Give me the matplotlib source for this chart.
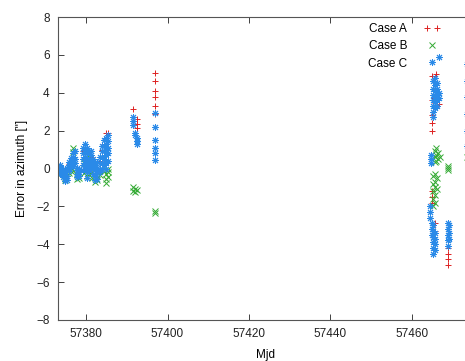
import matplotlib
matplotlib.use("Agg")
import matplotlib.pyplot as plt
from matplotlib.legend_handler import HandlerLine2D

plt.rcParams['font.family'] = ['Liberation Sans', 'DejaVu Sans']
plt.rcParams['font.size'] = 8.5

# Case A (red +)
mjd_a = [57373.3, 57373.8, 57374.8, 57375.8, 57376.8, 57377.8, 57379.3, 57379.8,
         57380.3, 57381.3, 57382.3, 57383.3, 57383.8, 57384.3, 57384.9, 57385.3,
         57391.5, 57392.4, 57392.4, 57392.4,
         57397.0, 57397.0, 57397.0, 57397.0, 57397.0, 57397.0,
         57464.9, 57466.0, 57464.9, 57466.8, 57464.9, 57464.9, 57464.9,
         57465.0, 57465.0, 57465.0, 57465.6, 57465.6,
         57468.8, 57468.8, 57468.8, 57468.8]
err_a = [0.05, -0.1, -0.4, 0.25, 0.55, -0.2, 0.9, 1.15,
         0.95, 0.6, 0.1, 0.4, 1.0, 1.3, 1.9, 1.85,
         3.15, 2.6, 2.35, 2.15,
         5.05, 4.6, 4.1, 3.75, 3.3, 2.9,
         4.9, 5.0, 3.6, 3.4, 2.8, 2.4, 2.0,
         -1.2, -1.5, -1.8, -2.9, -3.3,
         -4.2, -4.5, -4.8, -5.1]

# Case B (green x)
mjd_b = [57373.3, 57373.3, 57374.8, 57374.8, 57375.8, 57376.5, 57376.5, 57376.9, 57376.9,
         57377.8, 57377.8, 57378.3, 57379.5, 57379.5, 57380.3, 57380.3, 57380.8, 57380.8,
         57381.5, 57381.5, 57382.3, 57382.3, 57382.8, 57383.3, 57383.3, 57384.3, 57384.3,
         57384.8, 57384.8, 57384.8, 57385.3, 57385.3, 57385.3,
         57391.5, 57391.5, 57392.0, 57392.0, 57392.5, 57397.0, 57397.0,
         57465.6, 57465.6, 57465.6, 57466.0, 57466.0, 57466.0, 57466.5, 57466.5, 57467.0,
         57468.8, 57468.8, 57468.8,
         57465.2, 57465.2, 57465.2, 57465.2, 57465.2,
         57465.8, 57465.8, 57465.8, 57465.8, 57465.8, 57466.3, 57466.3,
         57473.6]
err_b = [-0.35, -0.2, -0.6, -0.45, -0.25, 0.0, -0.2, 1.1, 0.85,
         -0.55, -0.35, -0.5, -0.25, 0.3, -0.4, 0.6, -0.3, 0.0,
         -0.5, -0.2, -0.7, -0.5, -0.6, -0.35, -0.1, -0.15, 0.1,
         -0.3, -0.55, -0.75, -0.2, -0.45, 0.0,
         -1.0, -1.2, -1.1, -1.25, -1.15, -2.25, -2.35,
         0.9, 0.6, 0.35, 1.1, 0.7, 0.4, 0.8, 0.5, 0.6,
         0.05, -0.1, 0.15,
         -0.4, -0.8, -1.2, -1.6, -2.0,
         -0.3, -0.7, -1.0, -1.4, -1.8, -0.5, -1.1,
         0.6]

# Case C (blue asterisk)
mjd_c = [57373.2] * 5 + [57373.7] * 4 + [57374.3] * 3 + [57374.8] * 4 + [57375.3] * 4 + \
        [57375.8] * 4 + [57376.3] * 4 + [57376.8] * 4 + [57377.3] * 3 + [57377.8] * 4 + \
        [57378.3] * 3 + [57379.3] * 5 + [57379.8] * 5 + [57380.3] * 6 + [57380.8] * 4 + \
        [57381.3] * 4 + [57381.8] * 4 + [57382.3] * 4 + [57382.8] * 4 + [57383.3] * 4 + \
        [57383.8] * 5 + [57384.3] * 5 + [57384.8] * 6 + [57385.3] * 5 + \
        [57391.5] * 3 + [57392.0] * 2 + [57392.5] * 3 + [57397.0] * 6 + \
        [57466.7] + [57465.3] * 7 + [57465.8] * 6 + [57466.3] * 5 + [57466.6] * 2 + \
        [57464.7] * 3 + [57464.6] * 3 + [57465.0] * 3 + [57465.3] * 6 + [57465.8] * 4 + \
        [57468.8] * 5 + [57469.1] * 3 + [57473.6] * 6
err_c = [0.1, -0.05, -0.2, -0.3, 0.15,
         0.05, -0.15, -0.25, 0.2,
         0.0, -0.3, -0.45,
         -0.2, -0.5, -0.65, -0.35,
         -0.1, 0.05, -0.4, -0.6,
         0.2, 0.35, 0.05, -0.15,
         0.4, 0.55, 0.25, 0.1,
         0.6, 0.35, 0.15, 0.8,
         0.5, 0.9, 0.3,
         -0.1, -0.3, -0.45, 0.05,
         -0.2, -0.4, 0.0,
         0.8, 1.1, 0.5, 0.2, -0.1,
         1.3, 1.0, 0.6, 0.3, 0.0,
         1.1, 0.8, 0.4, 0.1, -0.2, -0.5,
         0.9, 0.5, 0.2, -0.1,
         0.7, 0.4, 0.1, 0.95,
         0.3, 0.0, -0.3, 0.5,
         0.2, -0.1, -0.4, -0.6,
         0.35, 0.05, -0.25, -0.55,
         0.6, 0.3, 0.0, -0.2,
         1.2, 0.9, 0.6, 0.3, 0.0,
         1.5, 1.2, 0.9, 0.5, 0.2,
         1.6, 1.3, 1.0, 0.7, 0.3, 0.0,
         1.75, 1.45, 1.1, 0.8, 0.4,
         2.7, 2.5, 2.3,
         1.9, 1.75,
         1.6, 1.45, 1.3,
         2.95, 2.2, 1.5, 1.1, 0.8, 0.45,
         5.9,
         4.6, 4.2, 3.9, 3.6, 3.3, 3.0, 2.7,
         4.8, 4.4, 4.1, 3.8, 3.5, 3.2,
         4.5, 4.2, 3.9, 3.6, 3.3,
         4.0, 3.7,
         0.7, 0.5, 0.3,
         -2.0, -2.3, -2.6,
         -2.9, -3.2, -3.5,
         -3.0, -3.3, -3.6, -3.9, -4.2, -4.5,
         -3.4, -3.7, -4.0, -4.3,
         -2.9, -3.2, -3.5, -3.8, -4.1,
         -3.0, -3.4, -3.7,
         5.5, 4.6, 3.8, 2.9, 2.0, 1.2]

fig = plt.figure(figsize=(4.65, 3.61), dpi=100)
ax = fig.add_axes([58 / 465, 41 / 361, (472 - 58) / 465, 303 / 361])

hA, = ax.plot(mjd_a, err_a, linestyle='none', marker='+', color='#dd2222',
              markersize=5, markeredgewidth=0.7, label='Case A')
hB, = ax.plot(mjd_b, err_b, linestyle='none', marker='x', color='#33aa33',
              markersize=4.2, markeredgewidth=0.7, label='Case B')
hC, = ax.plot(mjd_c, err_c, linestyle='none', marker=(8, 2, 0), color='#2a8ae8',
              markersize=5, markeredgewidth=0.7, label='Case C')

ax.set_xlim(57373.1, 57474.8)
ax.set_ylim(-8, 8)
ax.set_xticks([57380, 57400, 57420, 57440, 57460])
ax.set_yticks(range(-8, 9, 2))
ax.tick_params(direction='in', length=4, width=0.6, top=True, right=True,
               colors='#222222', labelcolor='#222222', pad=6)
for s in ax.spines.values():
    s.set_color('#555555')
    s.set_linewidth(0.8)

ax.set_xlabel('Mjd', labelpad=6)
ax.set_ylabel('Error in azimuth ["]', labelpad=6)

ax.legend(handles=[hA, hB, hC], loc='upper right', frameon=False, markerfirst=False,
          numpoints=1, bbox_to_anchor=(446 / 465, 1 - 17 / 361), bbox_transform=fig.transFigure,
          handlelength=1.4, handletextpad=1.4, labelspacing=0.45, borderpad=0,
          handler_map={hA: HandlerLine2D(numpoints=2)})

fig.savefig('out.png', dpi=100)
